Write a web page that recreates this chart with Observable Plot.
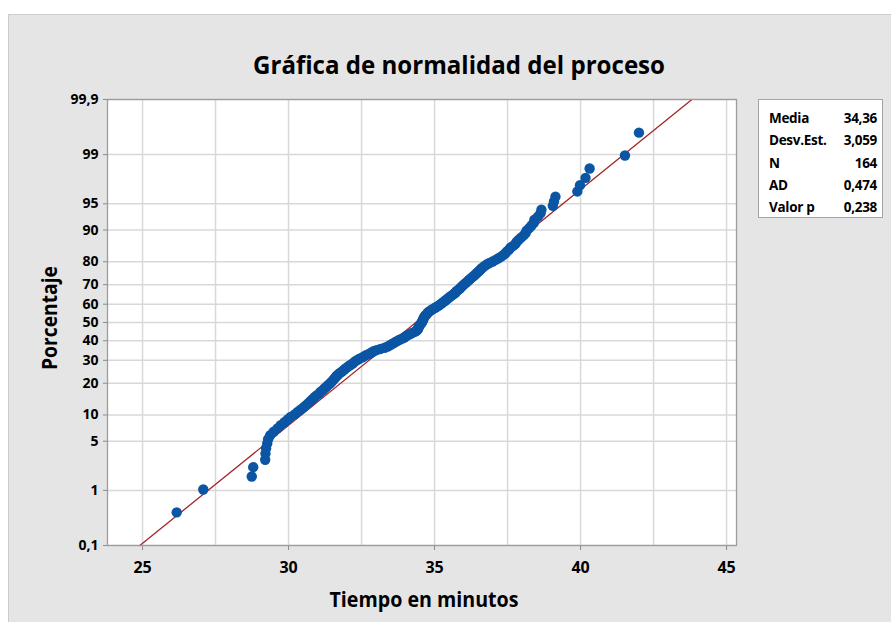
<!DOCTYPE html>
<html>
<head>
<meta charset="utf-8">
<script src="https://cdn.jsdelivr.net/npm/d3@7"></script>
<script src="https://cdn.jsdelivr.net/npm/@observablehq/plot@0.6"></script>
<style>
  html, body { margin: 0; padding: 0; background: #ffffff; }
  body { width: 891px; height: 622px; position: relative; overflow: hidden; font-family: "Open Sans", sans-serif; }
  #bg { position: absolute; left: 8px; top: 14px; right: 0; bottom: 0; background: #e5e5e5; border-left: 1px solid #cdcdcd; border-top: 1px solid #cdcdcd; }
  #chart { position: absolute; left: 0; top: 0; }
  .lbl { position: absolute; white-space: nowrap; font-weight: 700; color: #000; line-height: 1; }
  #title { font-size: 25px; left: 459px; top: 52px; transform-origin: 50% 50%; }
  #xlabel { font-size: 21px; left: 424px; top: 587px; transform-origin: 50% 50%; }
  #ylabel { font-size: 21px; left: 49px; top: 318px; transform-origin: 50% 50%; }
  #stats { position: absolute; left: 758px; top: 99px; width: 125px; height: 119px; box-sizing: border-box; background: #fff; border: 1px solid #a3a3a3; padding-top: 7px; }
  .row { position: relative; height: 22.3px; font-size: 13.5px; font-weight: 700; line-height: 22.3px; letter-spacing: -0.3px; }
  .row .k { position: absolute; left: 10px; }
  .row .v { position: absolute; right: 5px; }
</style>
</head>
<body>
<div id="bg"></div>
<div id="chart"></div>
<div id="title" class="lbl"></div>
<div id="xlabel" class="lbl"></div>
<div id="ylabel" class="lbl"></div>
<div id="stats"></div>
<script>
// ---- Data ----
const titulo = "Gráfica de normalidad del proceso";
const etiquetaX = "Tiempo en minutos";
const etiquetaY = "Porcentaje";

// 164 observed times (minutes), sorted
const tiempo = [
  26.17, 27.08, 28.74, 28.79, 29.20, 29.21, 29.23, 29.27, 29.30, 29.37,
  29.49, 29.62, 29.73, 29.86, 29.97, 30.07, 30.21, 30.31, 30.41, 30.51,
  30.60, 30.68, 30.75, 30.82, 30.89, 30.96, 31.05, 31.10, 31.18, 31.23,
  31.30, 31.35, 31.42, 31.47, 31.52, 31.56, 31.61, 31.64, 31.70, 31.75,
  31.82, 31.88, 31.93, 31.99, 32.05, 32.12, 32.19, 32.24, 32.29, 32.36,
  32.43, 32.53, 32.60, 32.67, 32.77, 32.84, 32.91, 33.01, 33.15, 33.29,
  33.39, 33.46, 33.53, 33.60, 33.66, 33.73, 33.80, 33.89, 33.96, 34.01,
  34.08, 34.16, 34.23, 34.32, 34.38, 34.42, 34.44, 34.45, 34.47, 34.49,
  34.52, 34.55, 34.57, 34.59, 34.61, 34.62, 34.64, 34.66, 34.69, 34.73,
  34.76, 34.79, 34.85, 34.90, 34.97, 35.03, 35.10, 35.16, 35.21, 35.26,
  35.31, 35.36, 35.41, 35.46, 35.51, 35.56, 35.62, 35.67, 35.72, 35.75,
  35.80, 35.86, 35.89, 35.94, 35.98, 36.03, 36.08, 36.13, 36.18, 36.23,
  36.28, 36.34, 36.39, 36.44, 36.49, 36.54, 36.59, 36.64, 36.71, 36.78,
  36.88, 36.99, 37.09, 37.19, 37.28, 37.36, 37.43, 37.48, 37.55, 37.60,
  37.69, 37.77, 37.81, 37.88, 37.96, 38.05, 38.12, 38.15, 38.24, 38.32,
  38.40, 38.42, 38.54, 38.63, 38.66, 39.05, 39.09, 39.14, 39.89, 39.98,
  40.17, 40.31, 41.52, 42.00
];

// Summary statistics shown in the box
const media = 34.36;
const desvEst = 3.059;
const statLabels = ["Media", "Desv.Est.", "N", "AD", "Valor p"];
const statValues = ["34,36", "3,059", "164", "0,474", "0,238"];

// Axis ticks
const yTicks = [0.1, 1, 5, 10, 20, 30, 40, 50, 60, 70, 80, 90, 95, 99, 99.9];
const xTicks = [25, 30, 35, 40, 45];
const xGrid = [25, 27.5, 30, 32.5, 35, 37.5, 40, 42.5, 45];
const xDomain = [23.8, 45.34];

// ---- Probability (probit) scale helper: inverse standard normal CDF ----
function probit(p) {
  const a = [-3.969683028665376e+01, 2.209460984245205e+02, -2.759285104469687e+02, 1.383577518672690e+02, -3.066479806614716e+01, 2.506628277459239e+00];
  const b = [-5.447609879822406e+01, 1.615858368580409e+02, -1.556989798598866e+02, 6.680131188771972e+01, -1.328068155288572e+01];
  const c = [-7.784894002430293e-03, -3.223964580411365e-01, -2.400758277161838e+00, -2.549671010229297e+00, 4.374664141464968e+00, 2.938163982698783e+00];
  const d = [7.784695709041462e-03, 3.224671290700398e-01, 2.445134137142996e+00, 3.754408661907416e+00];
  const pl = 0.02425;
  if (p < pl) {
    const q = Math.sqrt(-2 * Math.log(p));
    return (((((c[0]*q+c[1])*q+c[2])*q+c[3])*q+c[4])*q+c[5]) / ((((d[0]*q+d[1])*q+d[2])*q+d[3])*q+1);
  }
  if (p > 1 - pl) {
    const q = Math.sqrt(-2 * Math.log(1 - p));
    return -(((((c[0]*q+c[1])*q+c[2])*q+c[3])*q+c[4])*q+c[5]) / ((((d[0]*q+d[1])*q+d[2])*q+d[3])*q+1);
  }
  const q = p - 0.5, r = q * q;
  return (((((a[0]*r+a[1])*r+a[2])*r+a[3])*r+a[4])*r+a[5])*q / (((((b[0]*r+b[1])*r+b[2])*r+b[3])*r+b[4])*r+1);
}

// Points: Minitab median-rank plotting positions of the sorted observations
const n = tiempo.length;
const sorted = tiempo.slice().sort((u, v) => u - v);
const points = sorted.map((x, i) => ({ x, z: probit((i + 1 - 0.3) / (n + 0.4)) }));

const yTickZ = yTicks.map(p => probit(p / 100));
const zLo = yTickZ[0], zHi = yTickZ[yTickZ.length - 1];
const fitLine = [zLo, zHi].map(z => ({ x: media + desvEst * z, z }));
const fmtPct = (z) => {
  const k = yTickZ.findIndex(t => Math.abs(t - z) < 1e-9);
  return k < 0 ? "" : String(yTicks[k]).replace(".", ",");
};

const chart = Plot.plot({
  width: 891,
  height: 622,
  marginLeft: 107,
  marginRight: 155,
  marginTop: 99,
  marginBottom: 77,
  style: { background: "transparent", fontFamily: "'Open Sans', sans-serif", color: "#000" },
  x: { domain: xDomain },
  y: { domain: [zLo, zHi] },
  marks: [
    Plot.frame({ fill: "#ffffff", stroke: null }),
    Plot.gridX({ ticks: xGrid, stroke: "#d8d8d8", strokeOpacity: 1, strokeWidth: 1.5 }),
    Plot.gridY({ ticks: yTickZ, stroke: "#d8d8d8", strokeOpacity: 1, strokeWidth: 1.5 }),
    Plot.axisX({ ticks: xTicks, tickSize: 5, tickPadding: 11, fontSize: 16, fontWeight: "bold",
                 stroke: "#8a8a8a", fill: "#000", label: null, tickFormat: d => String(d) }),
    Plot.axisY({ ticks: yTickZ, tickSize: 4, tickPadding: 5, fontSize: 14, fontWeight: "bold",
                 stroke: "#8a8a8a", fill: "#000", label: null, tickFormat: fmtPct }),
    Plot.line(fitLine, { x: "x", y: "z", stroke: "#a3262a", strokeWidth: 1.3 }),
    Plot.dot(points, { x: "x", y: "z", r: 5.2, fill: "#0a55a4", stroke: null }),
    Plot.frame({ stroke: "#9c9c9c", strokeWidth: 1.3 })
  ]
});
document.getElementById("chart").appendChild(chart);

// ---- Text blocks ----
function fit(el, text, target, extra) {
  el.textContent = text;
  const w = el.getBoundingClientRect().width;
  const s = target / w;
  el.style.transform = `translate(-50%, -50%) ${extra || ""} scaleX(${s})`;
}
const t = document.getElementById("title");
fit(t, titulo, 412, "");
const xl = document.getElementById("xlabel");
fit(xl, etiquetaX, 189, "");
const yl = document.getElementById("ylabel");
yl.textContent = etiquetaY;
{
  const w = yl.getBoundingClientRect().width;
  yl.style.transform = `translate(-50%, -50%) rotate(-90deg) scaleX(${104 / w})`;
}
t.style.top = "64px";
xl.style.top = "599px";

const stats = document.getElementById("stats");
statLabels.forEach((k, i) => {
  const row = document.createElement("div");
  row.className = "row";
  const a = document.createElement("span"); a.className = "k"; a.textContent = k;
  const b = document.createElement("span"); b.className = "v"; b.textContent = statValues[i];
  row.appendChild(a); row.appendChild(b);
  stats.appendChild(row);
});
</script>
</body>
</html>
